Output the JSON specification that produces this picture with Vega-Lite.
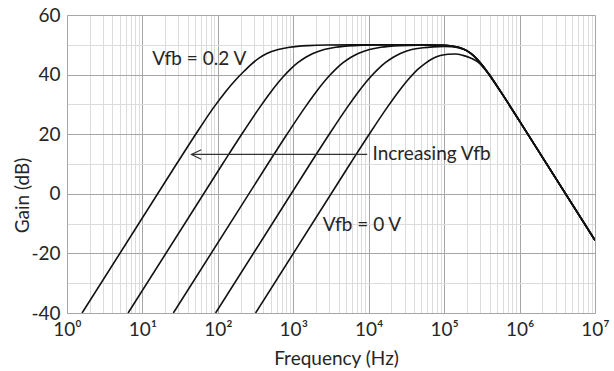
{
  "$schema": "https://vega.github.io/schema/vega-lite/v6.json",
  "width": 528,
  "height": 298,
  "autosize": {"type": "none"},
  "padding": {"left": 67, "top": 15, "right": 19, "bottom": 58},
  "background": "white",
  "config": {"view": {"stroke": null}, "font": "Lato"},
  "datasets": {
    "curves": [
      {"vfb": "c1", "f": 1.585, "g": -40}, {"vfb": "c1", "f": 28.18, "g": 9.91}, {"vfb": "c1", "f": 50.12, "g": 19.73}, {"vfb": "c1", "f": 89.13, "g": 29.17}, {"vfb": "c1", "f": 125.9, "g": 34.2}, {"vfb": "c1", "f": 177.8, "g": 38.6}, {"vfb": "c1", "f": 223.9, "g": 41.2}, {"vfb": "c1", "f": 281.8, "g": 43.6}, {"vfb": "c1", "f": 354.8, "g": 45.6}, {"vfb": "c1", "f": 446.7, "g": 47.09}, {"vfb": "c1", "f": 631.0, "g": 48.42}, {"vfb": "c1", "f": 891.3, "g": 49.17}, {"vfb": "c1", "f": 1585, "g": 49.73}, {"vfb": "c1", "f": 2818, "g": 49.91}, {"vfb": "c1", "f": 8913, "g": 49.99}, {"vfb": "c1", "f": 31623, "g": 50.0}, {"vfb": "c1", "f": 100000, "g": 49.85}, {"vfb": "c1", "f": 125893, "g": 49.62}, {"vfb": "c1", "f": 158489, "g": 49.1}, {"vfb": "c1", "f": 199526, "g": 48.03}, {"vfb": "c1", "f": 251189, "g": 46.12}, {"vfb": "c1", "f": 316228, "g": 43.34}, {"vfb": "c1", "f": 398107, "g": 39.95}, {"vfb": "c1", "f": 562341, "g": 34.28}, {"vfb": "c1", "f": 1000000, "g": 24.4}, {"vfb": "c1", "f": 10000000, "g": -15.6},
      {"vfb": "c2", "f": 6.457, "g": -40}, {"vfb": "c2", "f": 114.8, "g": 9.91}, {"vfb": "c2", "f": 204.2, "g": 19.73}, {"vfb": "c2", "f": 363.1, "g": 29.17}, {"vfb": "c2", "f": 512.9, "g": 34.42}, {"vfb": "c2", "f": 724.4, "g": 39.09}, {"vfb": "c2", "f": 912.0, "g": 41.75}, {"vfb": "c2", "f": 1148, "g": 43.98}, {"vfb": "c2", "f": 1446, "g": 45.75}, {"vfb": "c2", "f": 1820, "g": 47.09}, {"vfb": "c2", "f": 2570, "g": 48.42}, {"vfb": "c2", "f": 3631, "g": 49.17}, {"vfb": "c2", "f": 6457, "g": 49.73}, {"vfb": "c2", "f": 11482, "g": 49.91}, {"vfb": "c2", "f": 36308, "g": 49.99}, {"vfb": "c2", "f": 100000, "g": 49.85}, {"vfb": "c2", "f": 125893, "g": 49.62}, {"vfb": "c2", "f": 158489, "g": 49.1}, {"vfb": "c2", "f": 199526, "g": 48.03}, {"vfb": "c2", "f": 251189, "g": 46.12}, {"vfb": "c2", "f": 316228, "g": 43.34}, {"vfb": "c2", "f": 398107, "g": 39.95}, {"vfb": "c2", "f": 562341, "g": 34.28}, {"vfb": "c2", "f": 1000000, "g": 24.4}, {"vfb": "c2", "f": 10000000, "g": -15.6},
      {"vfb": "c3", "f": 25.7, "g": -40}, {"vfb": "c3", "f": 457.1, "g": 9.91}, {"vfb": "c3", "f": 812.8, "g": 19.73}, {"vfb": "c3", "f": 1446, "g": 29.17}, {"vfb": "c3", "f": 2042, "g": 34.42}, {"vfb": "c3", "f": 2884, "g": 39.09}, {"vfb": "c3", "f": 3631, "g": 41.75}, {"vfb": "c3", "f": 4571, "g": 43.98}, {"vfb": "c3", "f": 5754, "g": 45.75}, {"vfb": "c3", "f": 7244, "g": 47.09}, {"vfb": "c3", "f": 10233, "g": 48.42}, {"vfb": "c3", "f": 14454, "g": 49.17}, {"vfb": "c3", "f": 25704, "g": 49.73}, {"vfb": "c3", "f": 45709, "g": 49.9}, {"vfb": "c3", "f": 100000, "g": 49.83}, {"vfb": "c3", "f": 125893, "g": 49.61}, {"vfb": "c3", "f": 158489, "g": 49.09}, {"vfb": "c3", "f": 199526, "g": 48.03}, {"vfb": "c3", "f": 251189, "g": 46.12}, {"vfb": "c3", "f": 316228, "g": 43.34}, {"vfb": "c3", "f": 398107, "g": 39.95}, {"vfb": "c3", "f": 562341, "g": 34.28}, {"vfb": "c3", "f": 1000000, "g": 24.4}, {"vfb": "c3", "f": 10000000, "g": -15.6},
      {"vfb": "c4", "f": 93.33, "g": -40}, {"vfb": "c4", "f": 1660, "g": 9.91}, {"vfb": "c4", "f": 2951, "g": 19.73}, {"vfb": "c4", "f": 5248, "g": 29.17}, {"vfb": "c4", "f": 7413, "g": 34.42}, {"vfb": "c4", "f": 10471, "g": 39.09}, {"vfb": "c4", "f": 13183, "g": 41.75}, {"vfb": "c4", "f": 16596, "g": 43.98}, {"vfb": "c4", "f": 20893, "g": 45.75}, {"vfb": "c4", "f": 26303, "g": 47.09}, {"vfb": "c4", "f": 37154, "g": 48.42}, {"vfb": "c4", "f": 52481, "g": 49.0}, {"vfb": "c4", "f": 70795, "g": 49.3}, {"vfb": "c4", "f": 100000, "g": 49.45}, {"vfb": "c4", "f": 125893, "g": 49.35}, {"vfb": "c4", "f": 158489, "g": 48.95}, {"vfb": "c4", "f": 199526, "g": 47.97}, {"vfb": "c4", "f": 251189, "g": 46.08}, {"vfb": "c4", "f": 316228, "g": 43.32}, {"vfb": "c4", "f": 398107, "g": 39.94}, {"vfb": "c4", "f": 562341, "g": 34.28}, {"vfb": "c4", "f": 1000000, "g": 24.4}, {"vfb": "c4", "f": 10000000, "g": -15.6},
      {"vfb": "c5", "f": 316.2, "g": -40}, {"vfb": "c5", "f": 5623, "g": 9.91}, {"vfb": "c5", "f": 10000, "g": 19.73}, {"vfb": "c5", "f": 17783, "g": 29.17}, {"vfb": "c5", "f": 25119, "g": 34.42}, {"vfb": "c5", "f": 35481, "g": 39.09}, {"vfb": "c5", "f": 44668, "g": 41.74}, {"vfb": "c5", "f": 56234, "g": 43.8}, {"vfb": "c5", "f": 70795, "g": 45.4}, {"vfb": "c5", "f": 89125, "g": 46.4}, {"vfb": "c5", "f": 112202, "g": 46.85}, {"vfb": "c5", "f": 141254, "g": 46.9}, {"vfb": "c5", "f": 177828, "g": 46.45}, {"vfb": "c5", "f": 223872, "g": 45.6}, {"vfb": "c5", "f": 281838, "g": 44.2}, {"vfb": "c5", "f": 354813, "g": 41.45}, {"vfb": "c5", "f": 446684, "g": 37.95}, {"vfb": "c5", "f": 562341, "g": 34.19}, {"vfb": "c5", "f": 1000000, "g": 24.37}, {"vfb": "c5", "f": 10000000, "g": -15.6}
    ],
    "labels": [
      {"f": 13.5, "g": 45.2, "label": "Vfb = 0.2 V"},
      {"f": 11220, "g": 13.2, "label": "Increasing Vfb"},
      {"f": 2455, "g": -10.6, "label": "Vfb = 0 V"}
    ],
    "arrow": [
      {"f": 44.67, "f2": 9550, "g": 13.2}
    ],
    "chevron": [
      {"k": 1, "f": 60.3, "g": 14.8},
      {"k": 2, "f": 44.67, "g": 13.2},
      {"k": 3, "f": 60.3, "g": 11.6}
    ]
  },
  "resolve": {"axis": {"x": "independent", "y": "independent"}},
  "layer": [
    {
      "data": {"name": "curves"},
      "mark": {"type": "line", "color": "#111111", "strokeWidth": 1.6, "interpolate": "monotone", "clip": true},
      "encoding": {
        "x": {"field": "f", "type": "quantitative",
              "scale": {"type": "log", "domain": [1, 10000000], "nice": false},
              "axis": {"orient": "top", "title": null, "labels": false, "ticks": false, "domain": false, "grid": true, "gridColor": "#dcdcdc", "gridWidth": 1,
                       "values": [2,3,4,5,6,7,8,9,20,30,40,50,60,70,80,90,200,300,400,500,600,700,800,900,2000,3000,4000,5000,6000,7000,8000,9000,20000,30000,40000,50000,60000,70000,80000,90000,200000,300000,400000,500000,600000,700000,800000,900000,2000000,3000000,4000000,5000000,6000000,7000000,8000000,9000000]}},
        "y": {"field": "g", "type": "quantitative",
              "scale": {"domain": [-40, 60], "nice": false, "zero": false},
              "axis": {"orient": "right", "title": null, "labels": false, "ticks": false, "domain": false, "grid": true, "gridColor": "#dcdcdc", "gridWidth": 1, "values": [-30, -10, 10, 30, 50]}},
        "detail": {"field": "vfb"}
      }
    },
    {
      "data": {"name": "labels"},
      "mark": {"type": "text", "align": "left", "baseline": "middle", "font": "Lato", "fontSize": 19, "color": "#262626"},
      "encoding": {
        "x": {"field": "f", "type": "quantitative",
              "axis": {"orient": "bottom", "values": [1, 10, 100, 1000, 10000, 100000, 1000000, 10000000],
                       "labelExpr": "['10⁰','10¹','10²','10³','10⁴','10⁵','10⁶','10⁷'][round(log(datum.value)/LN10)]",
                       "grid": true, "gridColor": "#a6a6a6", "gridWidth": 1, "domain": true, "domainColor": "#a6a6a6", "domainWidth": 1,
                       "ticks": false, "tickSize": 0, "labelFont": "Lato", "labelFontSize": 19, "labelColor": "#262626", "labelBaseline": "alphabetic", "labelPadding": 22, "labelFlush": false, "labelOverlap": false,
                       "title": "Frequency (Hz)", "titleFont": "Lato", "titleFontSize": 19, "titleFontWeight": "normal", "titleColor": "#262626", "titleX": 269, "titleY": 51, "titleAlign": "center", "titleBaseline": "alphabetic"}},
        "y": {"field": "g", "type": "quantitative",
              "axis": {"orient": "left", "values": [-40, -20, 0, 20, 40, 60],
                       "labelExpr": "'' + datum.value",
                       "grid": true, "gridColor": "#a6a6a6", "gridWidth": 1, "domain": true, "domainColor": "#a6a6a6", "domainWidth": 1,
                       "ticks": false, "tickSize": 0, "labelFont": "Lato", "labelFontSize": 19, "labelColor": "#262626", "labelPadding": 7, "labelFlush": false, "labelOverlap": false,
                       "title": "Gain (dB)", "titleFont": "Lato", "titleFontSize": 19, "titleFontWeight": "normal", "titleColor": "#262626", "titleAngle": 270, "titleX": -45, "titleY": 180, "titleAlign": "center", "titleBaseline": "middle"}},
        "text": {"field": "label"}
      }
    },
    {
      "data": {"name": "arrow"},
      "mark": {"type": "rule", "color": "#333333", "strokeWidth": 1.2},
      "encoding": {
        "x": {"field": "f", "type": "quantitative", "axis": null},
        "x2": {"field": "f2"},
        "y": {"field": "g", "type": "quantitative", "axis": null}
      }
    },
    {
      "data": {"name": "chevron"},
      "mark": {"type": "line", "color": "#333333", "strokeWidth": 1.2},
      "encoding": {
        "x": {"field": "f", "type": "quantitative", "axis": null},
        "y": {"field": "g", "type": "quantitative", "axis": null},
        "order": {"field": "k"}
      }
    }
  ]
}
